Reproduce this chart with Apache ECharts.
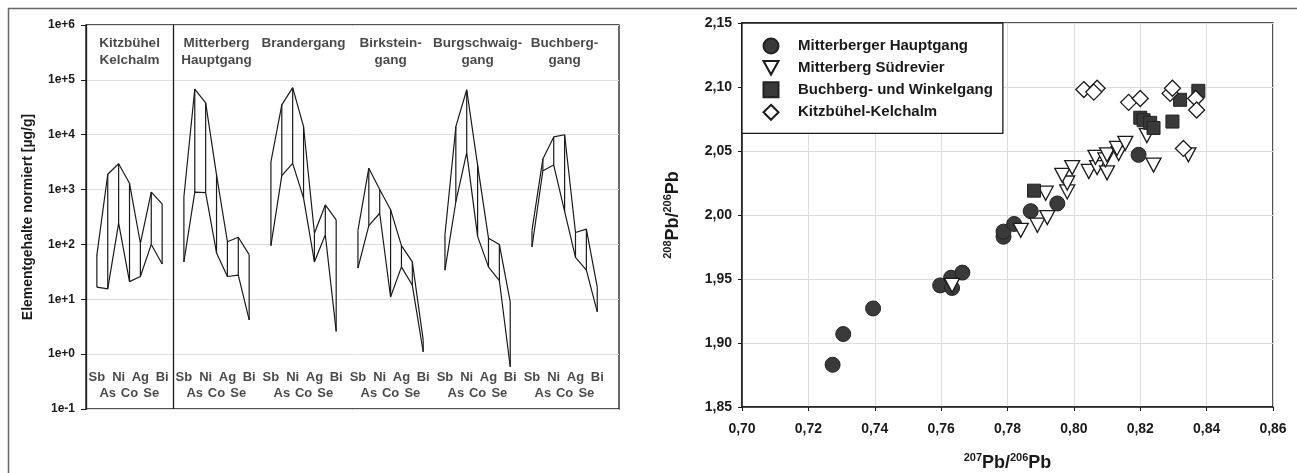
<!DOCTYPE html>
<html><head><meta charset="utf-8">
<script src="https://cdn.jsdelivr.net/npm/echarts@6/dist/echarts.min.js"></script>
<style>html,body{margin:0;padding:0;background:#fff}#c{width:1297px;height:473px}</style>
</head><body><div id="c"></div>
<script>
// ---------- Left panel: normalised element contents (log scale) ----------
const elements = ['Sb','As','Ni','Co','Ag','Se','Bi'];
const groupNames = ['Kitzbühel\nKelchalm','Mitterberg\nHauptgang','Brandergang','Birkstein-\ngang','Burgschwaig-\ngang','Buchberg-\ngang'];
const kitzUpper   = [64, 1900, 2950, 1300, 105, 900, 550];
const kitzLower   = [16.6, 15.5, 245, 21, 26, 100, 44];
const mittUpper   = [740, 68000, 38000, 1850, 112, 135, 65];
const mittLower   = [48, 900, 880, 70, 26, 27.6, 4.2];
const brandUpper  = [3200, 35000, 72000, 14000, 160, 525, 280];
const brandLower  = [95, 1800, 3000, 700, 48, 150, 2.6];
const birkUpper   = [180, 2450, 1000, 430, 95, 48, 1.8];
const birkLower   = [37, 220, 370, 11, 39, 18, 1.1];
const burgUpper   = [150, 14000, 66000, 2800, 130, 100, 9];
const burgLower   = [34, 600, 4700, 140, 39, 22, 0.59];
const buchUpper   = [180, 3600, 9100, 10000, 165, 190, 16.6];
const buchLower   = [90, 2200, 2800, 400, 58, 34, 5.9];
const uppers = [kitzUpper, mittUpper, brandUpper, birkUpper, burgUpper, buchUpper];
const lowers = [kitzLower, mittLower, brandLower, birkLower, burgLower, buchLower];
const logTicks = ['1e-1','1e+0','1e+1','1e+2','1e+3','1e+4','1e+5','1e+6'];
const groupStep = 8;          // categories per group on the x scale (7 elements + gap)
const titleAnchor = 6.7e5;    // y value where group titles start
const elementRowValues = [0.37, 0.19]; // y values of the two element-label rows
const separatorX = 8;

// ---------- Right panel: Pb isotopes ----------
const seriesNames = ['Mitterberger Hauptgang','Mitterberg Südrevier','Buchberg- und Winkelgang','Kitzbühel-Kelchalm'];
const hauptX = [0.7273,0.7305,0.7395,0.7597,0.7633,0.7630,0.7664,0.7788,0.7788,0.7820,0.7870,0.7950,0.8195];
const hauptY = [1.883,1.907,1.927,1.945,1.943,1.951,1.955,1.983,1.987,1.993,2.003,2.009,2.047];
const suedX = [0.7633,0.7840,0.7890,0.7920,0.7915,0.7980,0.7980,0.7965,0.7995,0.8045,0.8070,0.8100,0.8065,0.8095,0.8100,0.8135,0.8130,0.8155,0.8220,0.8240,0.8345];
const suedY = [1.945,1.988,1.992,1.998,2.017,2.018,2.025,2.031,2.037,2.034,2.037,2.033,2.045,2.043,2.047,2.048,2.052,2.056,2.062,2.039,2.047];
const buchX = [0.7880,0.8200,0.8210,0.8230,0.8240,0.8297,0.8320,0.8375];
const buchY = [2.019,2.076,2.074,2.072,2.068,2.073,2.090,2.097];
const kitzX = [0.8030,0.8070,0.8060,0.8165,0.8200,0.8290,0.8297,0.8367,0.8370,0.8330];
const kitzY = [2.098,2.099,2.096,2.088,2.091,2.095,2.099,2.091,2.082,2.052];
const xTicks = ['0,70','0,72','0,74','0,76','0,78','0,80','0,82','0,84','0,86'];
const yTicks = ['1,85','1,90','1,95','2,00','2,05','2,10','2,15'];

const FONT = '"Liberation Sans", Arial, sans-serif';
const DARK = '#3a3a3a';
const INK = '#1a1a1a';

const pos = (g, i) => 1 + g * groupStep + i;

const series = [];
uppers.forEach((up, g) => {
  const lo = lowers[g];
  const s1 = {
    type: 'line', xAxisIndex: 0, yAxisIndex: 0, silent: true, symbol: 'none',
    lineStyle: {color: INK, width: 1.2}, animation: false,
    data: up.map((v, i) => [pos(g, i), v])
  };
  if (g === 0) {
    s1.markLine = {silent: true, symbol: 'none', label: {show: false},
      lineStyle: {color: INK, width: 1.3, type: 'solid'}, data: [{xAxis: separatorX}]};
  }
  series.push(s1);
  series.push({
    type: 'line', xAxisIndex: 0, yAxisIndex: 0, silent: true, symbol: 'none',
    lineStyle: {color: INK, width: 1.2}, animation: false,
    data: lo.map((v, i) => [pos(g, i), v])
  });
  series.push({
    type: 'custom', xAxisIndex: 0, yAxisIndex: 0, silent: true, animation: false,
    encode: {x: 0, y: [1, 2]},
    data: lo.map((v, i) => [pos(g, i), v, up[i]]),
    renderItem: function (params, api) {
      const x = api.value(0);
      const a = api.coord([x, api.value(1)]);
      const b = api.coord([x, api.value(2)]);
      return {type: 'line', shape: {x1: a[0], y1: a[1], x2: b[0], y2: b[1]},
        style: {stroke: INK, lineWidth: 1.2}};
    }
  });
});
// group titles
series.push({
  type: 'scatter', xAxisIndex: 0, yAxisIndex: 0, silent: true, symbolSize: 0, animation: false,
  itemStyle: {color: 'transparent'},
  data: groupNames.map((n, g) => [pos(g, 3), titleAnchor, n]),
  label: {show: true, position: [0, 0], align: 'center', verticalAlign: 'top',
    formatter: p => p.data[2], fontFamily: FONT, fontWeight: 'bold', fontSize: 13.5,
    lineHeight: 17, color: INK}
});
// element labels
const elData = [];
groupNames.forEach((n, g) => elements.forEach((e, i) => elData.push([pos(g, i), elementRowValues[i % 2], e])));
series.push({
  type: 'scatter', xAxisIndex: 0, yAxisIndex: 0, silent: true, symbolSize: 0, animation: false,
  itemStyle: {color: 'transparent'},
  data: elData,
  label: {show: true, position: [0, 0], align: 'center', verticalAlign: 'middle',
    formatter: p => p.data[2], fontFamily: FONT, fontWeight: 'bold', fontSize: 13, color: INK}
});

// right panel scatter
const zip = (xs, ys) => xs.map((x, i) => [x, ys[i]]);
const triPath = 'path://M0,0L20,0L10,18Z';
series.push(
  {name: seriesNames[0], type: 'scatter', xAxisIndex: 1, yAxisIndex: 1, symbol: 'circle', symbolSize: 15,
   itemStyle: {color: DARK, borderColor: '#222', borderWidth: 1, opacity: 1}, data: zip(hauptX, hauptY)},
  {name: seriesNames[1], type: 'scatter', xAxisIndex: 1, yAxisIndex: 1, symbol: triPath, symbolSize: [15, 14],
   itemStyle: {color: '#fff', borderColor: INK, borderWidth: 1.3, opacity: 1}, data: zip(suedX, suedY)},
  {name: seriesNames[2], type: 'scatter', xAxisIndex: 1, yAxisIndex: 1, symbol: 'rect', symbolSize: 13,
   itemStyle: {color: DARK, borderColor: '#222', borderWidth: 1, opacity: 1}, data: zip(buchX, buchY)},
  {name: seriesNames[3], type: 'scatter', xAxisIndex: 1, yAxisIndex: 1, symbol: 'diamond', symbolSize: 16,
   itemStyle: {color: '#fff', borderColor: INK, borderWidth: 1.3, opacity: 1}, data: zip(kitzX, kitzY)}
);

const chart = echarts.init(document.getElementById('c'), null, {renderer: 'canvas'});
chart.setOption({
  animation: false,
  backgroundColor: '#fff',
  textStyle: {fontFamily: FONT},
  graphic: [
    {type: 'polyline', silent: true, shape: {points: [[8.5, 473], [8.5, 8.5], [1297, 8.5]]},
     style: {stroke: '#666', lineWidth: 1.5, fill: null}}
  ],
  grid: [
    {left: 86, top: 25, width: 533, height: 384, show: true, borderColor: INK, borderWidth: 1.3,
     backgroundColor: 'transparent', outerBoundsMode: 'none', containLabel: false},
    {left: 742, top: 23, width: 531, height: 384, show: true, borderColor: INK, borderWidth: 1.5,
     backgroundColor: 'transparent', outerBoundsMode: 'none', containLabel: false}
  ],
  legend: {
    data: seriesNames, orient: 'vertical', left: 742, top: 23,
    padding: [14.5, 10, 12.5, 20.5], itemWidth: 15, itemHeight: 15, itemGap: 5.6,
    backgroundColor: '#fff', borderColor: INK, borderWidth: 1.3, selectedMode: false,
    textStyle: {fontFamily: FONT, fontWeight: 'bold', fontSize: 15, color: INK, lineHeight: 15, padding: [0, 0, 0, 14.5]}
  },
  xAxis: [
    {type: 'value', gridIndex: 0, min: 0, max: 49, show: false},
    {type: 'value', gridIndex: 1, min: 0.70, max: 0.86, interval: 0.02,
     axisLine: {show: true, onZero: false, lineStyle: {color: INK, width: 1.5}},
     axisTick: {show: true, length: 4, lineStyle: {color: INK}},
     splitLine: {show: true, lineStyle: {color: '#dcdcdc', width: 1}},
     axisLabel: {margin: 15, fontFamily: FONT, fontWeight: 'bold', fontSize: 14, color: INK,
       formatter: v => xTicks[Math.round((v - 0.70) / 0.02)]},
     name: '{s|207}{p|Pb/}{s|206}{p|Pb}', nameLocation: 'middle', nameGap: 45,
     nameTextStyle: {rich: {
       s: {fontFamily: FONT, fontWeight: 'bold', fontSize: 11, verticalAlign: 'top', lineHeight: 20, color: INK},
       p: {fontFamily: FONT, fontWeight: 'bold', fontSize: 18, lineHeight: 20, color: INK, verticalAlign: 'bottom'}}}}
  ],
  yAxis: [
    {type: 'log', gridIndex: 0, logBase: 10, min: 0.1, max: 1e6, splitNumber: 7,
     axisLine: {show: true, lineStyle: {color: INK, width: 1.3}},
     axisTick: {show: true, length: 5, lineStyle: {color: INK}},
     splitLine: {show: true, lineStyle: {color: '#dedede', width: 1}},
     axisLabel: {margin: 11, fontFamily: FONT, fontWeight: 'bold', fontSize: 12, color: INK,
       formatter: v => logTicks[Math.round(Math.log10(v)) + 1]},
     name: 'Elementgehalte normiert [µg/g]', nameLocation: 'middle', nameGap: 51,
     nameTextStyle: {fontFamily: FONT, fontWeight: 'bold', fontSize: 14, color: INK}},
    {type: 'value', gridIndex: 1, min: 1.85, max: 2.15, interval: 0.05,
     axisLine: {show: true, onZero: false, lineStyle: {color: INK, width: 1.5}},
     axisTick: {show: true, length: 4, lineStyle: {color: INK}},
     splitLine: {show: true, lineStyle: {color: '#dcdcdc', width: 1}},
     axisLabel: {margin: 10, fontFamily: FONT, fontWeight: 'bold', fontSize: 14, color: INK,
       formatter: v => yTicks[Math.round((v - 1.85) / 0.05)]},
     name: '{s|208}{p|Pb/}{s|206}{p|Pb}', nameLocation: 'middle', nameGap: 60,
     nameTextStyle: {rich: {
       s: {fontFamily: FONT, fontWeight: 'bold', fontSize: 11, verticalAlign: 'top', lineHeight: 20, color: INK},
       p: {fontFamily: FONT, fontWeight: 'bold', fontSize: 18, lineHeight: 20, color: INK, verticalAlign: 'bottom'}}}}
  ],
  series: series
});
</script>
</body></html>
